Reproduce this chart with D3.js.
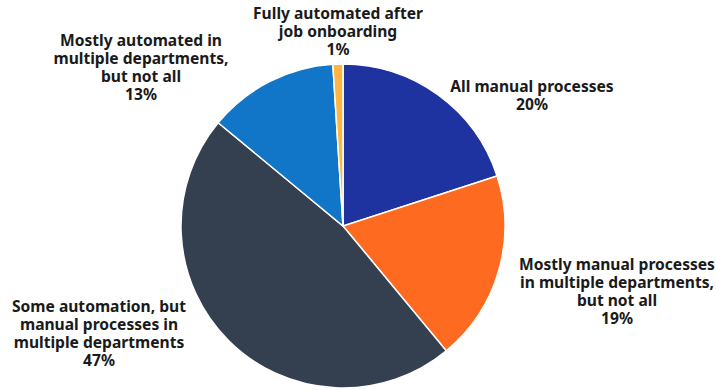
<html>
<head>
    <script src="https://cdnjs.cloudflare.com/ajax/libs/d3/7.8.5/d3.min.js"></script>
</head>
<style>
body {
    margin: 0;
    background-color: white;
}
#canvas {
    background-color: white;
}
</style>
<body>
    <svg id="canvas" width="716" height="390"></svg>

    <script>
    // slices, clockwise from 12 o'clock
    var categories = [
        "All manual processes",
        "Mostly manual processes in multiple departments, but not all",
        "Some automation, but manual processes in multiple departments",
        "Mostly automated in multiple departments, but not all",
        "Fully automated after job onboarding"
    ];
    var values = [20, 19, 47, 13, 1];
    // label text broken into lines the way the chart shows them
    var labelLines = [
        ["All manual processes"],
        ["Mostly manual processes", "in multiple departments,", "but not all"],
        ["Some automation, but", "manual processes in", "multiple departments"],
        ["Mostly automated in", "multiple departments,", "but not all"],
        ["Fully automated after", "job onboarding"]
    ];
    var colors = ["#1f33a0", "#fe6a1f", "#343f50", "#1175c8", "#ffb541"];

    // where each label block sits (centre x, first baseline y)
    var labelPos = [[532, 92], [617, 270], [99, 312], [141, 46], [338, 19]];

    var canvas = d3.select("#canvas");
    var cx = 343, cy = 226, r = 162;

    var pie = d3.pie().sort(null).value(d => d);
    var arc = d3.arc().innerRadius(0).outerRadius(r);

    var g = canvas.append("g").attr("transform", "translate(" + cx + "," + cy + ")");
    g.selectAll("path")
        .data(pie(values))
        .enter().append("path")
        .attr("d", arc)
        .style("fill", (d, i) => colors[i])
        .style("stroke", "white")
        .style("stroke-width", 1.5);

    var lineH = 18;
    var labels = canvas.selectAll("text.lbl")
        .data(values)
        .enter().append("text")
        .classed("lbl", true)
        .attr("text-anchor", "middle")
        .style("font-family", "'Noto Sans', sans-serif")
        .style("font-weight", 700)
        .style("font-size", "15.6px")
        .style("fill", "#1a1a1a");

    labels.each(function(v, i) {
        var t = d3.select(this);
        var lines = labelLines[i].concat([v + "%"]);
        lines.forEach((s, j) => {
            t.append("tspan")
                .attr("x", labelPos[i][0])
                .attr("y", labelPos[i][1] + j * lineH)
                .text(s);
        });
    });
    </script>
</body>
</html>
